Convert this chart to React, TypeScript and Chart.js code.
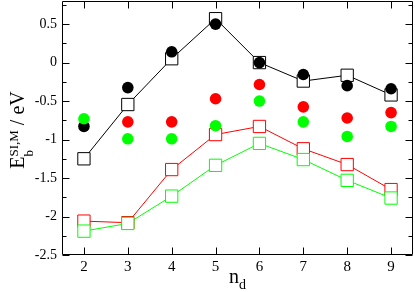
import React, { useEffect, useRef } from "react";
import { Chart, registerables } from "chart.js";

Chart.register(...registerables);

// ---- data ----
const categories = [2, 3, 4, 5, 6, 7, 8, 9];
const blackSquares = [-1.25, -0.545, 0.05, 0.57, 0.0, -0.24, -0.165, -0.42];
const redSquares = [-2.06, -2.08, -1.39, -0.935, -0.83, -1.12, -1.325, -1.65];
const greenSquares = [-2.19, -2.09, -1.735, -1.335, -1.05, -1.26, -1.53, -1.76];
const blackCircles = [-0.83, -0.325, 0.14, 0.5, 0.0, -0.155, -0.3, -0.34];
const redCircles = [null, -0.77, -0.77, -0.47, -0.285, -0.575, -0.72, -0.65];
const greenCircles = [-0.73, -0.99, -0.99, -0.82, -0.5, -0.77, -0.96, -0.83];

const xTicks = [2, 3, 4, 5, 6, 7, 8, 9];
const yTicks = [-2.5, -2, -1.5, -1, -0.5, 0, 0.5];
const yMinorTicks = [-2.25, -1.75, -1.25, -0.75, -0.25, 0.25, 0.75];

const FONT = "Liberation Serif";

function pts(arr: (number | null)[]) {
  return categories
    .map((x, i) => ({ x, y: arr[i] }))
    .filter((p) => p.y !== null) as { x: number; y: number }[];
}

const framePlugin = {
  id: "frameTicks",
  beforeDatasetsDraw(chart: any) {
    const { ctx, chartArea } = chart;
    const xs = chart.scales.x;
    const ys = chart.scales.y;
    const L = Math.round(chartArea.left) + 0.5;
    const R = Math.round(chartArea.right) - 0.5;
    const T = Math.round(chartArea.top) + 0.5;
    const B = Math.round(chartArea.bottom) - 0.5;
    ctx.save();
    ctx.strokeStyle = "#000";
    ctx.lineWidth = 1;
    ctx.beginPath();
    ctx.rect(L, T, R - L, B - T);
    ctx.stroke();
    const major = 7;
    const minor = 4;
    ctx.beginPath();
    xTicks.forEach((v) => {
      const px = Math.round(xs.getPixelForValue(v)) + 0.5;
      ctx.moveTo(px, B);
      ctx.lineTo(px, B - major);
      ctx.moveTo(px, T);
      ctx.lineTo(px, T + major);
    });
    yTicks.forEach((v) => {
      const py = Math.round(ys.getPixelForValue(v)) + 0.5;
      ctx.moveTo(L, py);
      ctx.lineTo(L + major, py);
      ctx.moveTo(R, py);
      ctx.lineTo(R - major, py);
    });
    yMinorTicks.forEach((v) => {
      const py = Math.round(ys.getPixelForValue(v)) + 0.5;
      ctx.moveTo(L, py);
      ctx.lineTo(L + minor, py);
      ctx.moveTo(R, py);
      ctx.lineTo(R - minor, py);
    });
    ctx.stroke();
    ctx.restore();
  },
  afterDraw(chart: any) {
    const { ctx, chartArea } = chart;
    ctx.save();
    ctx.fillStyle = "#000";
    ctx.textBaseline = "alphabetic";
    ctx.textAlign = "left";
    // x title: n_d
    const big = `20px ${FONT}`;
    const small = `14px ${FONT}`;
    ctx.font = big;
    const wn = ctx.measureText("n").width;
    ctx.font = small;
    const wd = ctx.measureText("d").width;
    const cx = (chartArea.left + chartArea.right) / 2;
    const x0 = cx - (wn + wd) / 2;
    ctx.font = big;
    ctx.fillText("n", x0, 283);
    ctx.font = small;
    ctx.fillText("d", x0 + wn, 289);

    // y title: E_b^{SI,M} / eV (rotated)
    const supFont = `13px ${FONT}`;
    ctx.font = big;
    const wE = ctx.measureText("E").width;
    const wRest = ctx.measureText(" / eV").width;
    ctx.font = supFont;
    const wb = ctx.measureText("b").width;
    const wS = ctx.measureText("SI,M").width;
    const total = wE + Math.max(wb, wS) + wRest;
    const cy = (chartArea.top + chartArea.bottom) / 2 + 2;
    ctx.translate(23.5, cy);
    ctx.rotate(-Math.PI / 2);
    let u = -total / 2;
    ctx.font = big;
    ctx.fillText("E", u, 0);
    u += wE;
    ctx.font = supFont;
    ctx.fillText("b", u, 9.5);
    ctx.fillText("SI,M", u, -5.5);
    u += Math.max(wb, wS);
    ctx.font = big;
    ctx.fillText(" / eV", u, 0);
    ctx.restore();
  },
};

export default function App() {
  const ref = useRef<HTMLCanvasElement | null>(null);
  useEffect(() => {
    if (!ref.current) return;
    const sq = (data: any, color: string, order: number) => ({
      data,
      showLine: true,
      borderColor: color,
      borderWidth: 1,
      backgroundColor: "#fff",
      pointStyle: "rect",
      pointRadius: 8.7,
      pointBorderColor: color,
      pointBackgroundColor: "#fff",
      pointBorderWidth: 1,
      order,
    });
    const ci = (data: any, color: string, order: number) => ({
      data,
      showLine: false,
      pointStyle: "circle",
      pointRadius: 5.8,
      pointBorderWidth: 0,
      pointBorderColor: color,
      pointBackgroundColor: color,
      backgroundColor: color,
      borderColor: color,
      order,
    });
    const zeroPad = (s: any) => {
      s.paddingTop = 0;
      s.paddingBottom = 0;
      s.paddingLeft = 0;
      s.paddingRight = 0;
    };
    const chart = new Chart(ref.current, {
      type: "scatter",
      data: {
        datasets: [
          ci(pts(greenCircles), "#00ff00", 0),
          ci(pts(redCircles), "#ff0000", 1),
          ci(pts(blackCircles), "#000000", 2),
          sq(pts(greenSquares), "#00ff00", 3),
          sq(pts(redSquares), "#ff0000", 4),
          sq(pts(blackSquares), "#000000", 5),
        ] as any,
      },
      options: {
        animation: false,
        responsive: false,
        devicePixelRatio: 1,
        layout: { autoPadding: false, padding: { top: 1, right: 2, left: 0, bottom: 0 } },
        plugins: {
          legend: { display: false },
          tooltip: { enabled: false },
        },
        scales: {
          x: {
            type: "linear",
            min: 1.5,
            max: 9.5,
            grid: { display: false, drawTicks: false },
            border: { display: false },
            afterBuildTicks: (s: any) => {
              s.ticks = xTicks.map((v) => ({ value: v }));
            },
            afterFit: (s: any) => {
              s.height = 37;
              zeroPad(s);
            },
            ticks: {
              color: "#000",
              padding: 3,
              maxRotation: 0,
              autoSkip: false,
              font: { family: FONT, size: 15 },
              callback: (v: any) => String(v),
            },
          },
          y: {
            type: "linear",
            min: -2.5,
            max: 0.8,
            grid: { display: false, drawTicks: false },
            border: { display: false },
            afterBuildTicks: (s: any) => {
              s.ticks = yTicks.map((v) => ({ value: v }));
            },
            afterFit: (s: any) => {
              s.width = 62;
              zeroPad(s);
            },
            ticks: {
              color: "#000",
              padding: 5,
              autoSkip: false,
              font: { family: FONT, size: 14 },
              callback: (v: any) => String(v),
            },
          },
        },
      },
      plugins: [framePlugin],
    });
    return () => chart.destroy();
  }, []);
  return (
    <div style={{ position: "absolute", left: 0, top: 0, width: 415, height: 292, background: "#fff" }}>
      <canvas ref={ref} width={415} height={292} style={{ display: "block" }} />
    </div>
  );
}
